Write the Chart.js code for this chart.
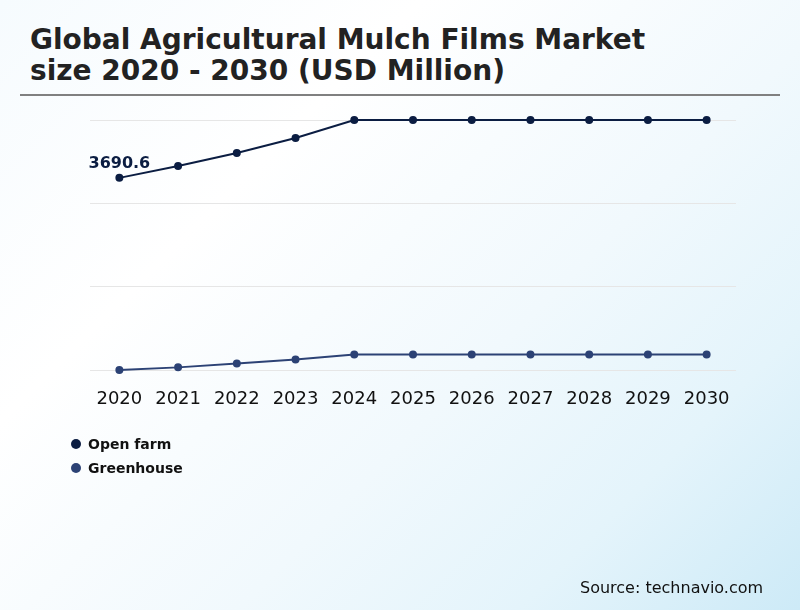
<!DOCTYPE html>
<html><head><meta charset="utf-8">
<script src="https://cdn.jsdelivr.net/npm/chart.js@4/dist/chart.umd.min.js"></script>
<style>
html,body{margin:0;padding:0;}
body{width:800px;height:610px;position:relative;overflow:hidden;font-family:"DejaVu Sans",sans-serif;
background:linear-gradient(135deg,#f6fbfe 0%,#ffffff 30%,#f1f9fd 60%,#e4f4fb 80%,#cdeaf7 100%);}
#title{position:absolute;left:30px;top:24px;font-family:"DejaVu Sans",sans-serif;font-weight:bold;font-size:28px;line-height:31px;color:#222;}
#rule{position:absolute;left:20px;top:94px;width:760px;height:2px;background:#808080;}
#wrap{position:absolute;left:0;top:0;width:800px;height:610px;}
#legend{position:absolute;left:71px;top:432px;font-weight:bold;font-size:14px;color:#111;}
.li{height:24px;display:flex;align-items:center;}
.dot{width:10px;height:10px;border-radius:50%;margin-right:7px;}
#source{position:absolute;left:580px;top:578px;font-size:16px;color:#111;}
</style></head>
<body>
<div id="title">Global Agricultural Mulch Films Market<br>size 2020 - 2030 (USD Million)</div>
<div id="rule"></div>
<div id="wrap"><canvas id="c" width="800" height="610"></canvas></div>
<div id="legend"></div>
<div id="source">Source: technavio.com</div>
<script>
const years = ["2020","2021","2022","2023","2024","2025","2026","2027","2028","2029","2030"];
const openFarm = [3690.6, 3917, 4166, 4454, 4800, 4800, 4800, 4800, 4800, 4800, 4800];
const greenhouse = [10, 58, 134, 211, 307, 307, 307, 307, 307, 307, 307];
const seriesNames = ["Open farm", "Greenhouse"];
const seriesColors = ["#0b1d42", "#2c4275"];
const labelText = "3690.6";

const lg = document.getElementById('legend');
seriesNames.forEach((n,i)=>{
  const d=document.createElement('div');d.className='li';
  d.innerHTML='<span class="dot" style="background:'+seriesColors[i]+'"></span>'+n;
  lg.appendChild(d);
});

const labelPlugin = {
  id:'firstLabel',
  afterDatasetsDraw(chart){
    const m = chart.getDatasetMeta(0).data[0];
    const ctx = chart.ctx;
    ctx.save();
    ctx.font = 'bold 16px "DejaVu Sans"';
    ctx.fillStyle = seriesColors[0];
    ctx.textAlign = 'center';
    ctx.textBaseline = 'bottom';
    ctx.fillText(labelText, m.x, m.y - 6);
    ctx.restore();
  }
};

new Chart(document.getElementById('c'), {
  type:'line',
  data:{
    labels: years,
    datasets:[
      {label:seriesNames[0], data:openFarm, borderColor:seriesColors[0], backgroundColor:seriesColors[0], borderWidth:2, pointRadius:3, pointHoverRadius:3, tension:0, clip:false},
      {label:seriesNames[1], data:greenhouse, borderColor:seriesColors[1], backgroundColor:seriesColors[1], borderWidth:2, pointRadius:3, pointHoverRadius:3, tension:0, clip:false}
    ]
  },
  options:{
    responsive:false, animation:false,
    layout:{padding:{left:90, right:64, top:120, bottom:182}},
    plugins:{legend:{display:false}, tooltip:{enabled:false}},
    scales:{
      x:{offset:true, grid:{display:false, drawTicks:false}, border:{display:false},
         ticks:{color:'#111', font:{family:'DejaVu Sans', size:18}, padding:18, maxRotation:0, autoSkip:false}},
      y:{min:0, max:4800, display:true, grid:{color:'#e6e6e6', drawTicks:false}, border:{display:false},
         ticks:{display:false, stepSize:1600}}
    }
  },
  plugins:[labelPlugin]
});
</script>
</body></html>
